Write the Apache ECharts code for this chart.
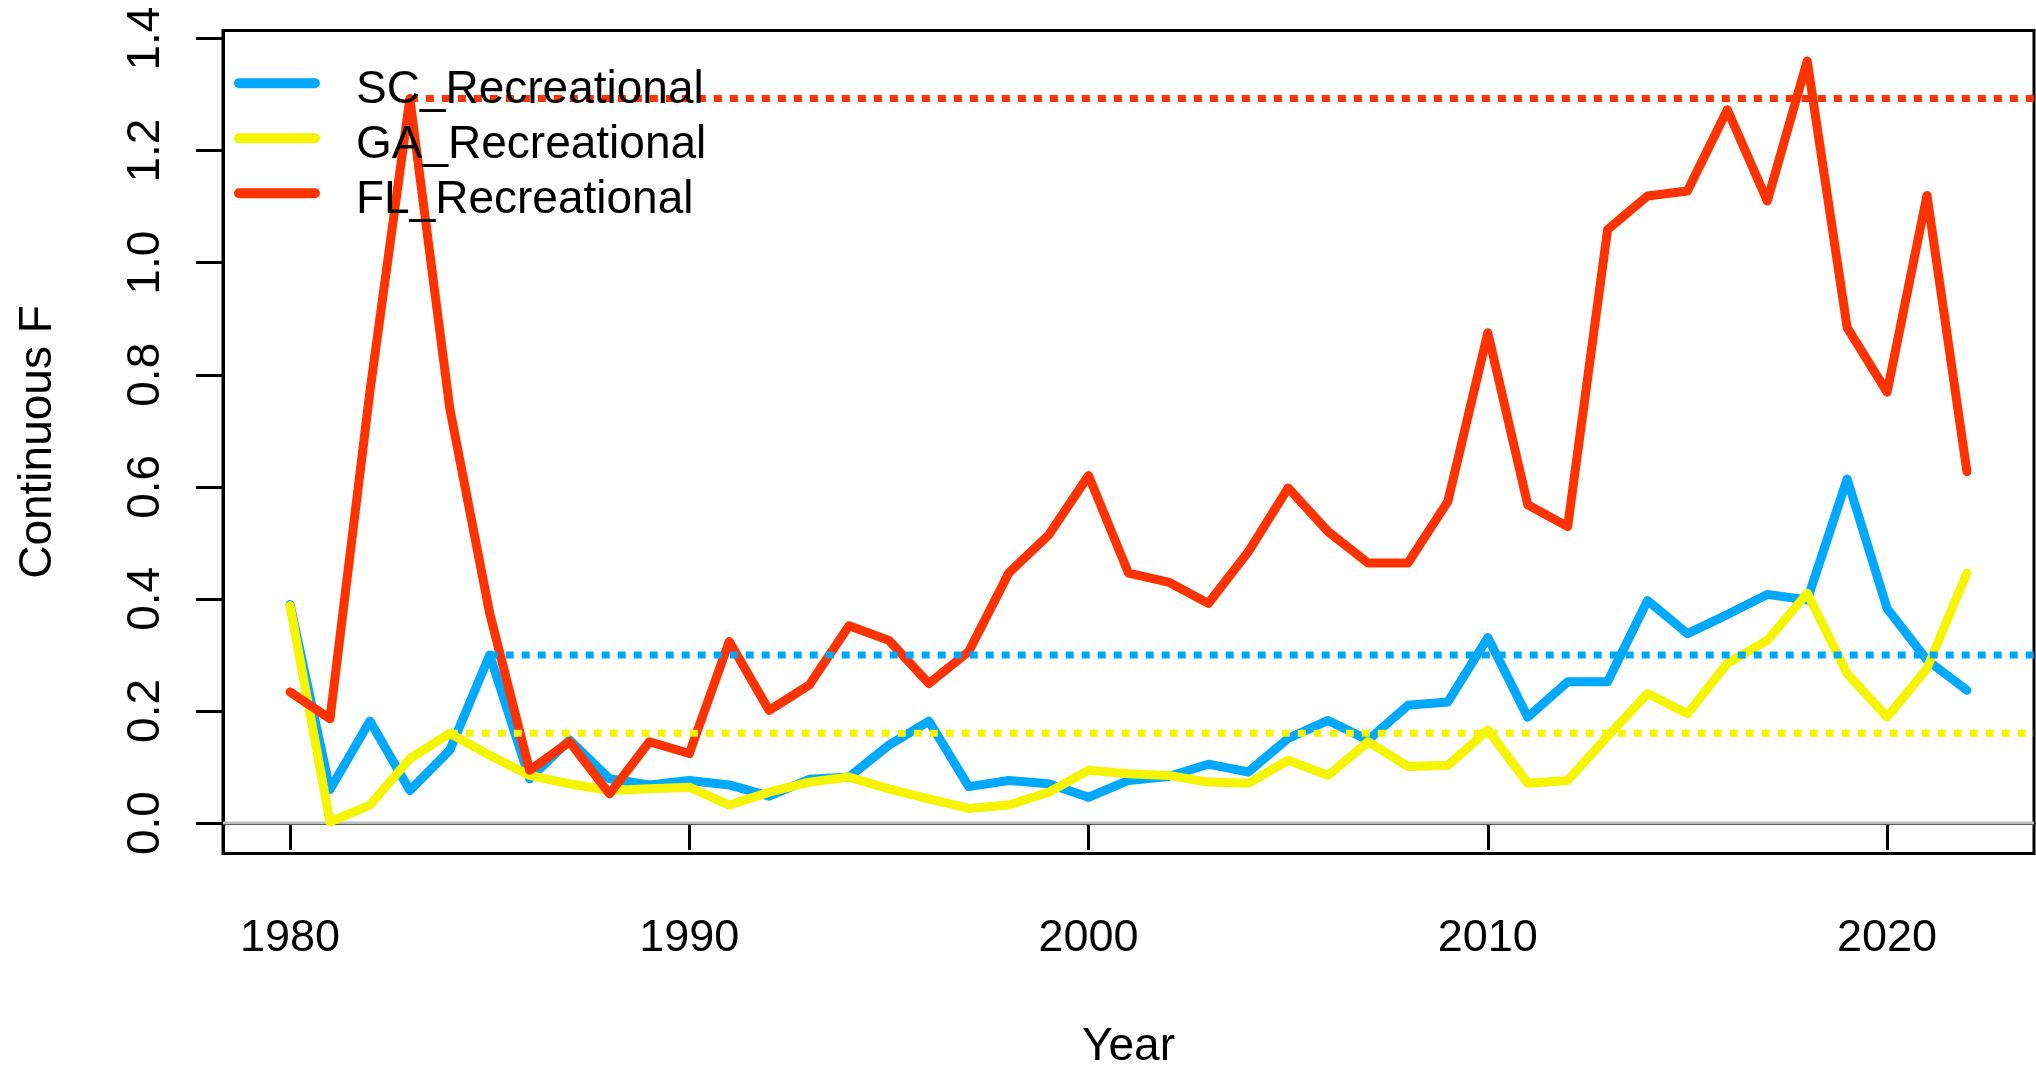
<!DOCTYPE html>
<html>
<head>
<meta charset="utf-8">
<script src="https://cdn.jsdelivr.net/npm/echarts@6/dist/echarts.min.js"></script>
<style>
  html, body { margin: 0; padding: 0; background: #fff; }
  #main { width: 2036px; height: 1067px; }
</style>
</head>
<body>
<div id="main"></div>
<script>
// years on the x axis
var years = [];
for (var y = 1980; y <= 2022; y++) years.push(y);

// continuous F per fleet
var scRec = [0.39, 0.06, 0.182, 0.058, 0.13, 0.30, 0.079, 0.148, 0.079, 0.068,
  0.076, 0.068, 0.048, 0.078, 0.082, 0.139, 0.182, 0.065, 0.076, 0.070,
  0.046, 0.076, 0.083, 0.105, 0.091, 0.151, 0.183, 0.148, 0.210, 0.216,
  0.331, 0.189, 0.252, 0.252, 0.397, 0.338, 0.372, 0.408, 0.398, 0.614,
  0.383, 0.291, 0.237];

var gaRec = [0.388, 0.002, 0.032, 0.115, 0.16, 0.121, 0.085, 0.070, 0.058, 0.061,
  0.064, 0.032, 0.055, 0.073, 0.082, 0.061, 0.043, 0.026, 0.032, 0.055,
  0.094, 0.088, 0.085, 0.073, 0.071, 0.112, 0.085, 0.145, 0.101, 0.103,
  0.166, 0.071, 0.076, 0.155, 0.231, 0.195, 0.285, 0.326, 0.410, 0.267,
  0.189, 0.276, 0.446];

var flRec = [0.234, 0.186, 0.77, 1.293, 0.74, 0.374, 0.094, 0.145, 0.052, 0.145,
  0.124, 0.324, 0.201, 0.246, 0.352, 0.326, 0.249, 0.306, 0.446, 0.514,
  0.62, 0.446, 0.43, 0.392, 0.484, 0.598, 0.520, 0.464, 0.464, 0.574,
  0.875, 0.568, 0.529, 1.059, 1.119, 1.128, 1.273, 1.110, 1.36, 0.884,
  0.769, 1.12, 0.627];

// dotted reference levels and the year each one starts
var refLevel = [0.30, 0.16, 1.293];
var refStart = [1985, 1984, 1983];

var names = ['SC_Recreational', 'GA_Recreational', 'FL_Recreational'];
var colors = ['#00A9FF', '#F5F500', '#FF3300'];

var yTicks = [0, 0.2, 0.4, 0.6, 0.8, 1.0, 1.2, 1.4];
var xTicks = [1980, 1990, 2000, 2010, 2020];

// R style 4% padding around the data range
var xMin = 1980 - 42 * 0.04, xMax = 2022 + 42 * 0.04;
var yMin = -1.36 * 0.04, yMax = 1.36 * 1.04;

var font = 'Liberation Sans, Arial, sans-serif';

// capsule shaped legend key, with a tiny dot underneath so the label sits a bit lower
var legendIcon = 'path://M5,0 H81 A5,5 0 0 1 81,10 H5 A5,5 0 0 1 5,0 Z M0,25 L0.01,25 L0,25.01 Z';

function pairs(vals) {
  return years.map(function (yr, i) { return [yr, vals[i]]; });
}

var seriesVals = [scRec, gaRec, flRec];

var series = [{
  name: 'zero',
  type: 'line',
  data: [[xMin, 0], [xMax, 0]],
  showSymbol: false,
  silent: true,
  lineStyle: { color: '#BEBEBE', width: 3 }
}];

seriesVals.forEach(function (vals, i) {
  series.push({
    name: names[i],
    type: 'line',
    data: pairs(vals),
    showSymbol: false,
    itemStyle: { color: colors[i] },
    lineStyle: { color: colors[i], width: 9, cap: 'round', join: 'round' }
  });
});

refLevel.forEach(function (lv, i) {
  series.push({
    name: 'ref' + i,
    type: 'line',
    data: [[refStart[i], lv], [xMax, lv]],
    showSymbol: false,
    silent: true,
    lineStyle: { color: colors[i], width: 7, type: [8, 8], cap: 'butt' }
  });
});

var myChart = echarts.init(document.getElementById('main'));

option = {
  animation: false,
  backgroundColor: '#fff',
  grid: {
    left: 223, right: 2, top: 30.5, bottom: 213.5,
    outerBoundsMode: 'none',
    show: true, borderColor: '#000', borderWidth: 3
  },
  legend: {
    data: names,
    orient: 'vertical',
    left: 234, top: 67.8,
    padding: 0,
    itemGap: 9,
    itemWidth: 86, itemHeight: 25,
    icon: legendIcon,
    itemStyle: { borderWidth: 0 },
    textStyle: { fontFamily: font, fontSize: 46, lineHeight: 46, color: '#000', padding: [0, 0, 0, 31] }
  },
  xAxis: {
    type: 'value',
    min: xMin, max: xMax,
    name: 'Year',
    nameLocation: 'middle',
    nameGap: 171,
    nameTextStyle: { fontFamily: font, fontSize: 46, color: '#000' },
    axisLine: { show: true, lineStyle: { color: '#000', width: 3 } },
    axisTick: { show: true, customValues: xTicks, length: 27, lineStyle: { color: '#000', width: 3 } },
    axisLabel: {
      customValues: xTicks, margin: 63, fontFamily: font, fontSize: 45, color: '#000',
      formatter: function (v) { return String(v); }
    },
    splitLine: { show: false }
  },
  yAxis: {
    type: 'value',
    min: yMin, max: yMax,
    name: 'Continuous F',
    nameLocation: 'middle',
    nameGap: 162,
    nameTextStyle: { fontFamily: font, fontSize: 46, color: '#000' },
    axisLine: { show: true, lineStyle: { color: '#000', width: 3 } },
    axisTick: { show: true, customValues: yTicks, length: 27, lineStyle: { color: '#000', width: 3 } },
    axisLabel: {
      customValues: yTicks, rotate: 90, margin: 54,
      fontFamily: font, fontSize: 46, color: '#000',
      formatter: function (v) { return v.toFixed(1); }
    },
    splitLine: { show: false }
  },
  series: series
};

myChart.setOption(option);
</script>
</body>
</html>
